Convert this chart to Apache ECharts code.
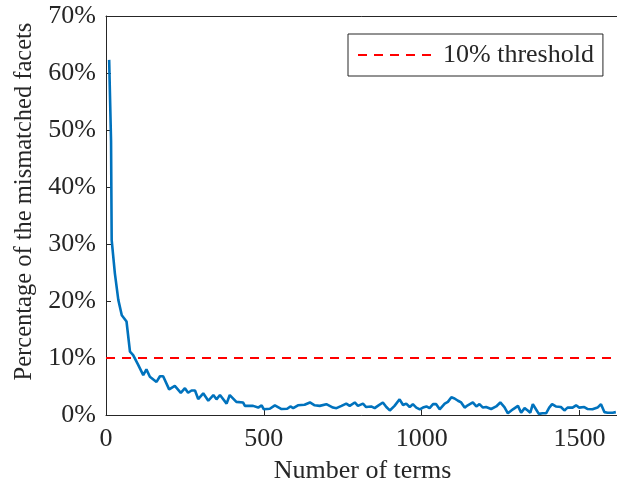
<!DOCTYPE html>
<html>
<head>
<meta charset="utf-8">
<script src="https://cdn.jsdelivr.net/npm/echarts@6/dist/echarts.min.js"></script>
<style>html,body{margin:0;padding:0;background:#fff}#c{width:617px;height:488px}</style>
</head>
<body>
<div id="c"></div>
<script>
var terms = [10,16,18,28,39,50,65,70,76,86,102,118,128,139,160,171,181,200,218,237,250,260,271,282,292,308,324,340,350,361,382,392,413,434,440,466,482,493,500,519,535,556,574,584,593,608,629,646,661,677,698,719,730,746,761,772,788,798,814,824,840,851,861,877,888,899,914,930,941,951,962,972,983,994,1004,1015,1025,1036,1046,1057,1073,1083,1094,1104,1115,1125,1136,1146,1162,1173,1183,1194,1204,1220,1236,1249,1262,1273,1289,1305,1315,1326,1336,1344,1352,1362,1371,1383,1394,1404,1413,1425,1441,1452,1462,1478,1489,1499,1515,1526,1541,1557,1568,1579,1589,1605,1615];
var mismatch = [62.3,48,30.7,24.9,20.2,17.5,16.4,16.2,11.1,10.5,8.8,7.0,8.0,6.7,5.8,6.8,6.8,4.5,5.1,3.9,4.7,3.9,4.3,4.3,2.8,3.8,2.5,3.5,2.75,3.5,2.0,3.5,2.3,2.2,1.6,1.6,1.3,1.7,1.0,1.1,1.7,1.05,1.1,1.5,1.2,1.7,1.8,2.2,1.7,1.6,1.9,1.3,1.2,1.6,2.0,1.6,2.2,1.6,2.0,1.4,1.5,1.2,1.6,2.2,1.4,0.8,1.6,2.75,1.75,2.0,1.4,1.9,1.3,1.0,1.3,1.5,1.2,1.9,1.9,1.0,2.0,2.3,3.1,2.9,2.5,2.2,1.3,1.7,2.2,1.5,1.9,1.3,1.4,1.05,1.5,2.2,1.4,0.3,1.0,1.6,0.4,1.2,0.8,0.4,1.9,1.0,0.2,0.3,0.3,1.3,1.9,1.5,1.4,0.8,1.3,1.3,1.7,1.3,1.4,1.05,1.0,1.3,1.9,0.5,0.4,0.4,0.5];
var thresholdX = [0, 1625];
var thresholdY = [10, 10];
var yTicks = [0,10,20,30,40,50,60,70];
var xTicks = [0,500,1000,1500];

var chart = echarts.init(document.getElementById('c'));
var font = '"Liberation Serif","Times New Roman",serif';
var ink = '#262626';
chart.setOption({
  animation: false,
  backgroundColor: '#fff',
  textStyle: {fontFamily: font},
  grid: {left: 106, top: 16, right: -2, bottom: 73, outerBoundsMode: 'none', containLabel: false, show: false},
  legend: {
    left: 348, top: 34, orient: 'horizontal',
    padding: [8, 9, 8, 9],
    borderColor: ink, borderWidth: 1, backgroundColor: '#fff',
    itemWidth: 80, itemHeight: 14,
    itemStyle: {opacity: 0},
    data: ['10% threshold'],
    textStyle: {fontFamily: font, fontSize: 26, color: ink}
  },
  xAxis: [{
    type: 'value', min: 0, max: 1625, interval: 500,
    name: 'Number of terms', nameLocation: 'middle', nameGap: 43,
    nameTextStyle: {fontFamily: font, fontSize: 26, color: ink},
    axisLine: {show: true, lineStyle: {color: ink, width: 1}},
    axisTick: {show: true, inside: true, length: 5, lineStyle: {color: ink}},
    axisLabel: {fontFamily: font, fontSize: 26, color: ink, margin: 11,
      formatter: function(v){ return xTicks.indexOf(v) >= 0 ? String(v) : ''; }},
    splitLine: {show: false}
  }, {
    type: 'value', position: 'top', min: 0, max: 1625, interval: 500,
    axisLine: {show: true, onZero: false, lineStyle: {color: ink, width: 1}},
    axisTick: {show: false}, axisLabel: {show: false}, splitLine: {show: false}
  }],
  yAxis: {
    type: 'value', min: 0, max: 70, interval: 10,
    name: 'Percentage of the mismatched facets', nameLocation: 'middle', nameGap: 68,
    nameTextStyle: {fontFamily: font, fontSize: 24.5, color: ink, padding: [0, 0, 0, 28]},
    axisLine: {show: true, lineStyle: {color: ink, width: 1}},
    axisTick: {show: true, inside: true, length: 5, lineStyle: {color: ink}},
    axisLabel: {fontFamily: font, fontSize: 26, color: ink, margin: 10,
      formatter: function(v){ return yTicks.indexOf(v) >= 0 ? v + '%' : ''; }},
    splitLine: {show: false}
  },
  series: [
    {
      name: 'curve', type: 'line', symbol: 'none', z: 3,
      lineStyle: {color: '#0072BD', width: 2.6},
      itemStyle: {color: '#0072BD'},
      data: terms.map(function(x, i){ return [x, mismatch[i]]; })
    },
    {
      name: '10% threshold', type: 'line', symbol: 'none', z: 2,
      lineStyle: {color: '#FF0000', width: 2, type: [9, 7]},
      itemStyle: {color: '#FF0000'},
      data: thresholdX.map(function(x, i){ return [x, thresholdY[i]]; })
    }
  ]
});
</script>
</body>
</html>
